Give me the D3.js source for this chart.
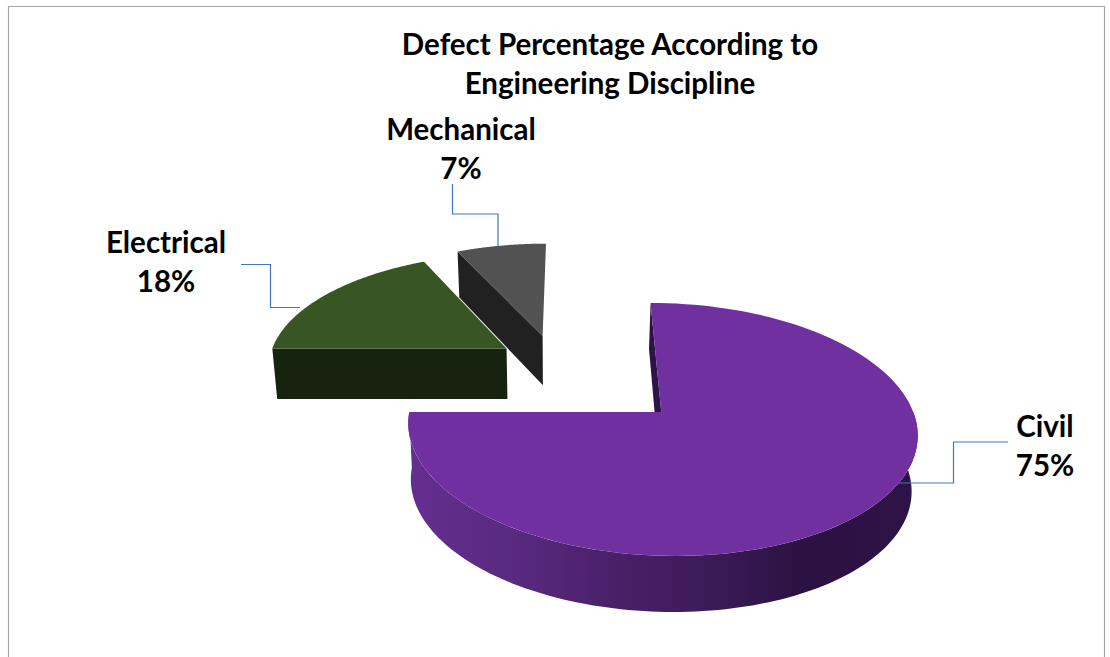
<!DOCTYPE html>
<html>
<head>
<meta charset="utf-8">
<script src="https://cdn.jsdelivr.net/npm/d3@7"></script>
<style>
  html, body { margin: 0; padding: 0; background: #fff; }
  svg { display: block; }
  text { font-family: Lato, "Open Sans", sans-serif; font-weight: 700; fill: #000; }
</style>
</head>
<body>
<svg id="chart" width="1110" height="657"></svg>
<script>
// Chart values
const disciplines = ["Civil", "Electrical", "Mechanical"];
const defectShares = [75, 18, 7];
const titleLines = ["Defect Percentage According to", "Engineering Discipline"];

// Styling per discipline
const topColors = ["#7030A0", "#375623", "#525252"];
const wallColors = ["#2E1347", "#16230F", "#212121"];
const explode = [[0.005, 0], [-0.629, 0.55], [-0.477, 0.669]];

// Camera used to lay the disc flat on the page
const cam = { apexX: 660, apexY: 412, vanishX: 573, spreadX: 252, spreadY: 124.1, persp: 0.138 };
const base = { originX: 560, scale: 0.983, depth: 56, depthFall: 10 };

const svg = d3.select("#chart");

// Ground plane (x right, z away from the viewer) to the page
function topPoint([x, z]) {
  const w = 1 + cam.persp * z;
  return [
    cam.vanishX + ((cam.apexX - cam.vanishX) + cam.spreadX * x) / w,
    cam.apexY - cam.spreadY * z / w
  ];
}
// Same ground point on the underside of the disc
function underPoint(p) {
  const [sx, sy] = topPoint(p);
  const fall = base.depth - base.depthFall * Math.min(1, Math.max(0, p[1]));
  return [base.originX + (sx - base.originX) * base.scale, sy + fall];
}

const line = d3.line();
const pie = d3.pie().sort(null).startAngle(0).endAngle(2 * Math.PI);
const slices = pie(defectShares).map((s, i) => ({ ...s, i }));

const rim = (s, a) => [explode[s.i][0] + Math.sin(a), explode[s.i][1] + Math.cos(a)];
const arcAngles = (a0, a1) => d3.range(0, 121).map(k => a0 + (a1 - a0) * k / 120);

// Gradient on the curved wall of the large slice
const grad = svg.append("defs").append("linearGradient")
  .attr("id", "wallShade").attr("gradientUnits", "userSpaceOnUse")
  .attr("x1", 410).attr("x2", 912).attr("y1", 0).attr("y2", 0);
[[0, "#642E8F"], [0.2, "#592A80"], [0.4, "#4A2069"], [0.6, "#3C1A57"], [0.78, "#2B1242"], [1, "#2E1347"]]
  .forEach(([o, c]) => grad.append("stop").attr("offset", o).attr("stop-color", c));

// Frame around the chart area
svg.append("path")
  .attr("d", line([[8.5, 657], [8.5, 6.5], [1104.5, 6.5], [1104.5, 657]]))
  .attr("fill", "none").attr("stroke", "#A6A6A6").attr("stroke-width", 1.2);

// Painted back to front
[2, 1, 0].forEach(idx => {
  const s = slices[idx];
  const g = svg.append("g").attr("class", "slice");
  const apex = explode[s.i];
  const startRim = rim(s, s.startAngle);

  // Cut face at the leading edge
  g.append("path")
    .attr("d", line([topPoint(startRim), topPoint(apex), underPoint(apex), underPoint(startRim)]) + "Z")
    .attr("fill", wallColors[s.i]);

  // Outer curved wall, wherever it faces the viewer
  const from = Math.max(s.startAngle, Math.PI / 2), to = Math.min(s.endAngle, 3 * Math.PI / 2);
  if (to > from) {
    const angles = arcAngles(from, to);
    const quads = d3.pairs(angles).map(([a, b]) =>
      line([topPoint(rim(s, a)), topPoint(rim(s, b)), underPoint(rim(s, b)), underPoint(rim(s, a))]) + "Z");
    g.append("path").attr("d", quads.join("")).attr("fill", "url(#wallShade)");
  }

  // Top face
  const outline = [topPoint(apex), ...arcAngles(s.startAngle, s.endAngle).map(a => topPoint(rim(s, a)))];
  g.append("path").attr("d", line(outline) + "Z").attr("fill", topColors[s.i]);
});

// Leader lines between labels and slices
const leaders = [
  [[1008, 442], [953.5, 442], [953.5, 483], [899, 483]],
  [[241, 264.5], [270.5, 264.5], [270.5, 307.5], [300, 307.5]],
  [[452.5, 184], [452.5, 214], [498, 214], [498, 247]]
];
svg.append("g").selectAll("path").data(leaders).join("path")
  .attr("d", d => line(d))
  .attr("fill", "none").attr("stroke", "#4472C4").attr("stroke-width", 1.2);

// Title
const fontSize = 29.5;
svg.append("g").selectAll("text").data(titleLines).join("text")
  .attr("x", 610).attr("y", (d, i) => 55 + i * 39)
  .attr("text-anchor", "middle").attr("font-size", fontSize).text(d => d);

// Category and percentage labels
const labelAnchors = [[1045, 437], [166, 253], [461, 140]];
slices.forEach(s => {
  const [x, y] = labelAnchors[s.i];
  const t = svg.append("text").attr("text-anchor", "middle").attr("font-size", fontSize);
  t.append("tspan").attr("x", x).attr("y", y).text(disciplines[s.i]);
  t.append("tspan").attr("x", x).attr("y", y + 39).text(defectShares[s.i] + "%");
});
</script>
</body>
</html>
